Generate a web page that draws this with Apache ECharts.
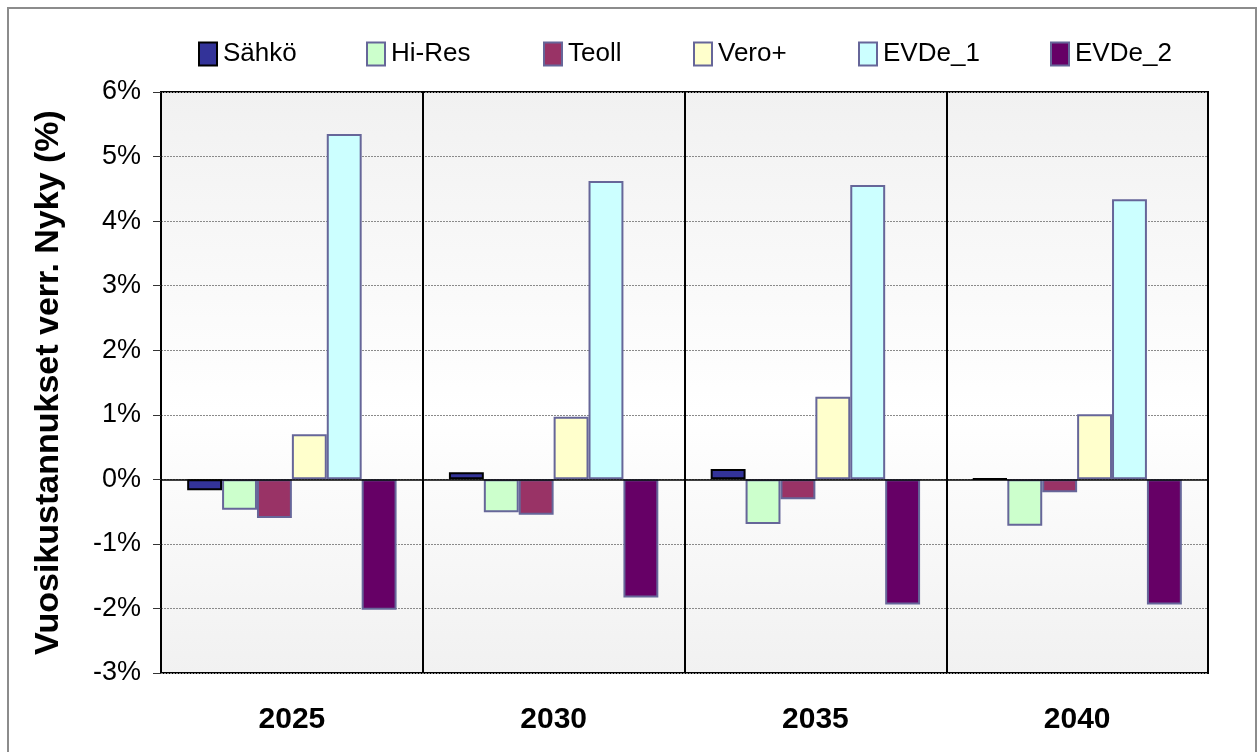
<!DOCTYPE html>
<html>
<head>
<meta charset="utf-8">
<script src="https://cdn.jsdelivr.net/npm/echarts@6/dist/echarts.min.js"></script>
<style>
  html, body { margin: 0; padding: 0; background: #ffffff; }
  #chart { width: 1258px; height: 752px; }
</style>
</head>
<body>
<div id="chart"></div>
<script>
// Annual cost change relative to the "Nyky" baseline, percent
const years = ['2025', '2030', '2035', '2040'];
const sahko = [-0.17, 0.11, 0.16, 0.01];
const hiRes = [-0.47, -0.51, -0.69, -0.72];
const teoll = [-0.60, -0.55, -0.31, -0.20];
const veroPlus = [0.70, 0.97, 1.28, 1.01];
const evde1 = [5.35, 4.62, 4.56, 4.34];
const evde2 = [-2.02, -1.83, -1.94, -1.94];

const seriesDefs = [
  { name: 'Sähkö', data: sahko, color: '#333399', border: '#000000' },
  { name: 'Hi-Res', data: hiRes, color: '#CCFFCC', border: '#666699' },
  { name: 'Teoll', data: teoll, color: '#993366', border: '#666699' },
  { name: 'Vero+', data: veroPlus, color: '#FFFFCC', border: '#666699' },
  { name: 'EVDe_1', data: evde1, color: '#CCFFFF', border: '#666699' },
  { name: 'EVDe_2', data: evde2, color: '#660066', border: '#666699' }
];

// horizontal slot of each legend entry
const legendLeft = [193, 361, 538, 688, 853, 1045];

const FONT = '"Liberation Sans", Arial, sans-serif';
const chart = echarts.init(document.getElementById('chart'), null, { renderer: 'canvas' });

const series = seriesDefs.map((s, i) => ({
  name: s.name,
  type: 'bar',
  data: s.data,
  barGap: '0%',
  barCategoryGap: '20%',
  itemStyle: { color: s.color, borderColor: s.border, borderWidth: 2 },
  emphasis: { disabled: true },
  markLine: i === 0 ? {
    silent: true,
    symbol: 'none',
    label: { show: false },
    lineStyle: { color: '#000000', width: 1.5, type: 'solid' },
    data: [{ yAxis: 0 }]
  } : undefined
}));

const legends = seriesDefs.map((s, i) => ({
  left: legendLeft[i],
  top: 36,
  itemWidth: 18,
  itemHeight: 23,
  itemGap: 0,
  icon: 'rect',
  selectedMode: false,
  textStyle: { fontFamily: FONT, fontSize: 26, color: '#000000', padding: [0, 0, 0, 1] },
  data: [s.name]
}));

chart.setOption({
  animation: false,
  textStyle: { fontFamily: FONT },
  graphic: [{
    type: 'rect',
    shape: { x: 8, y: 8, width: 1248, height: 760 },
    style: { fill: 'none', stroke: '#8c8c8c', lineWidth: 2 },
    z: -10
  }],
  legend: legends,
  grid: {
    left: 161,
    right: 50,
    top: 92,
    bottom: 79,
    show: true,
    borderColor: '#000000',
    borderWidth: 2,
    backgroundColor: {
      type: 'linear', x: 0, y: 0, x2: 0, y2: 1,
      colorStops: [
        { offset: 0, color: '#f1f1f1' },
        { offset: 0.55, color: '#ffffff' },
        { offset: 1, color: '#f1f1f1' }
      ]
    }
  },
  xAxis: {
    type: 'category',
    data: years,
    axisLine: { show: false },
    axisTick: { show: false },
    splitLine: { show: true, lineStyle: { color: '#000000', width: 2 } },
    axisLabel: {
      fontFamily: FONT, fontSize: 30, fontWeight: 'bold', color: '#000000', margin: 32
    }
  },
  yAxis: {
    type: 'value',
    min: -3,
    max: 6,
    interval: 1,
    name: 'Vuosikustannukset verr. Nyky (%)',
    nameLocation: 'middle',
    nameGap: 95,
    nameTextStyle: { fontFamily: FONT, fontSize: 34, fontWeight: 'bold', color: '#000000' },
    axisLine: { show: false },
    axisTick: { show: true, length: 8, lineStyle: { color: '#333333', width: 1 } },
    axisLabel: {
      fontFamily: FONT, fontSize: 27, color: '#000000', margin: 20,
      formatter: '{value}%'
    },
    splitLine: { show: true, lineStyle: { color: '#8a8a8a', width: 1, type: [2, 1] } }
  },
  series: series
});
</script>
</body>
</html>
